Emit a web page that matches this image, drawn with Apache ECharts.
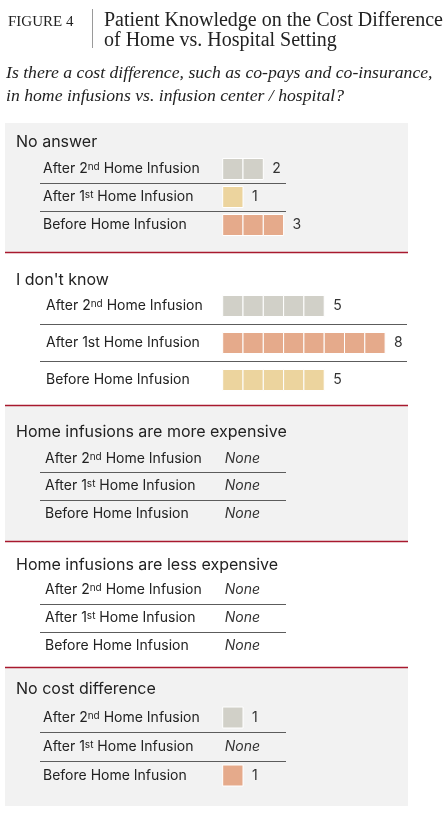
<!DOCTYPE html>
<html>
<head>
<meta charset="utf-8">
<script src="https://cdn.jsdelivr.net/npm/echarts@6/dist/echarts.min.js"></script>
<style>
  html, body { margin: 0; padding: 0; background: #fff; }
  #chart { width: 446px; height: 813px; }
</style>
</head>
<body>
<div id="chart"></div>
<script>
// ---- data ----
const sectionTitles = ['No answer', "I don't know", 'Home infusions are more expensive', 'Home infusions are less expensive', 'No cost difference']
const rowLabels = ['After 2{s|nd} Home Infusion', 'After 1{s|st} Home Infusion', 'Before Home Infusion']
const rowLabelsDontKnow = ['After 2{s|nd} Home Infusion', 'After 1st Home Infusion', 'Before Home Infusion']

const noAnswer = [2, 1, 3]
const dontKnow = [5, 8, 5]
const moreExpensive = [0, 0, 0]
const lessExpensive = [0, 0, 0]
const noDifference = [1, 0, 1]

// ---- styles ----
const GRAY = '#d1d0c8'
const TAN = '#ecd49e'
const SALMON = '#e5aa8b'
const RED = '#a8192e'
const PANEL = '#f2f2f2'
const SANS = 'Inter'
const SERIF = 'Liberation Serif'
const UNIT = 20.3   // px per respondent
const OFFSET = 9    // units between grid left and value 0

const panels = [
  { values: noAnswer, labels: rowLabels, colors: [GRAY, TAN, SALMON], top: 155, height: 84, right: 286, labelX: 43, head: 142 },
  { values: dontKnow, labels: rowLabelsDontKnow, colors: [GRAY, SALMON, TAN], top: 287.5, height: 111, right: 407, labelX: 46, head: 280 },
  { values: moreExpensive, labels: rowLabels, colors: [GRAY, TAN, SALMON], top: 445, height: 82.5, right: 286, labelX: 45, head: 432 },
  { values: lessExpensive, labels: rowLabels, colors: [GRAY, TAN, SALMON], top: 576, height: 84, right: 286, labelX: 45, head: 565 },
  { values: noDifference, labels: rowLabels, colors: [GRAY, TAN, SALMON], top: 703, height: 87, right: 286, labelX: 43, head: 689 }
]

const chart = echarts.init(document.getElementById('chart'))

const grid = []
const xAxis = []
const yAxis = []
const series = []

panels.forEach((p, i) => {
  const left = 40
  const width = p.right - left
  grid.push({ left: left, top: p.top, width: width, height: p.height })
  xAxis.push({
    gridIndex: i, type: 'value', min: -OFFSET, max: -OFFSET + width / UNIT,
    show: false
  })
  yAxis.push({
    gridIndex: i, type: 'category', inverse: true,
    data: p.labels,
    axisLine: { show: false }, axisTick: { show: false },
    splitLine: { show: true, showMinLine: false, showMaxLine: false, lineStyle: { color: '#5c5c5c', width: 1 } },
    axisLabel: {
      align: 'left', margin: left - p.labelX, color: '#222',
      fontFamily: SANS, fontSize: 14,
      rich: {
        s: { fontSize: 10, fontFamily: SANS, color: '#222', verticalAlign: 'top', lineHeight: 10, padding: [0, 0, 6, 0] }
      }
    }
  })
  series.push({
    type: 'custom',
    xAxisIndex: i, yAxisIndex: i,
    data: p.values.map((v, r) => [v, r]),
    encode: { x: 0, y: 1 },
    renderItem: (params, api) => {
      const v = api.value(0)
      const r = api.value(1)
      const children = []
      const color = p.colors[r]
      if (v === 0) {
        const pt = api.coord([0, r])
        children.push({
          type: 'text',
          style: { x: pt[0] + 2, y: pt[1], text: 'None', fill: '#333', font: 'italic 14px ' + SANS, verticalAlign: 'middle' }
        })
      } else {
        for (let k = 0; k < v; k++) {
          const a = api.coord([k, r])
          const b = api.coord([k + 1, r])
          children.push({
            type: 'rect',
            shape: { x: a[0], y: a[1] - 10.5, width: b[0] - a[0], height: 21 },
            style: { fill: color, stroke: '#fff', lineWidth: 1 }
          })
        }
        const end = api.coord([v, r])
        children.push({
          type: 'text',
          style: { x: end[0] + 9, y: end[1], text: String(v), fill: '#333', font: '14px ' + SANS, verticalAlign: 'middle' }
        })
      }
      return { type: 'group', children: children }
    }
  })
})

const graphic = [
  // panel backgrounds
  { type: 'rect', z: -10, shape: { x: 5, y: 123, width: 403, height: 129 }, style: { fill: PANEL } },
  { type: 'rect', z: -10, shape: { x: 5, y: 405, width: 403, height: 136 }, style: { fill: PANEL } },
  { type: 'rect', z: -10, shape: { x: 5, y: 667, width: 403, height: 139 }, style: { fill: PANEL } },
  // red rules
  ...[252, 405, 541, 667].map(y => ({
    type: 'line', z: -5, shape: { x1: 5, y1: y + 0.5, x2: 408, y2: y + 0.5 }, style: { stroke: RED, lineWidth: 1.5 }
  })),
  // header
  { type: 'text', style: { x: 8, y: 22, text: 'FIGURE 4', font: '15px ' + SERIF, fill: '#222', verticalAlign: 'middle' } },
  { type: 'line', shape: { x1: 92.5, y1: 9, x2: 92.5, y2: 48 }, style: { stroke: '#9a9a9a', lineWidth: 1 } },
  { type: 'text', style: { x: 104, y: 21, text: 'Patient Knowledge on the Cost Difference', font: '20px ' + SERIF, fill: '#222', verticalAlign: 'middle' } },
  { type: 'text', style: { x: 104, y: 41, text: 'of Home vs. Hospital Setting', font: '20px ' + SERIF, fill: '#222', verticalAlign: 'middle' } },
  { type: 'text', style: { x: 6, y: 73, text: 'Is there a cost difference, such as co-pays and co-insurance,', font: 'italic 17.7px ' + SERIF, fill: '#222', verticalAlign: 'middle' } },
  { type: 'text', style: { x: 6, y: 96, text: 'in home infusions vs. infusion center / hospital?', font: 'italic 17.7px ' + SERIF, fill: '#222', verticalAlign: 'middle' } },
  // section headings
  ...panels.map((p, i) => ({
    type: 'text', style: { x: 16, y: p.head, text: sectionTitles[i], font: '16px ' + SANS, fill: '#222', verticalAlign: 'middle' }
  }))
]

chart.setOption({
  animation: false,
  grid: grid,
  xAxis: xAxis,
  yAxis: yAxis,
  series: series,
  graphic: graphic
})

window.addEventListener('resize', () => chart.resize())
</script>
</body>
</html>
